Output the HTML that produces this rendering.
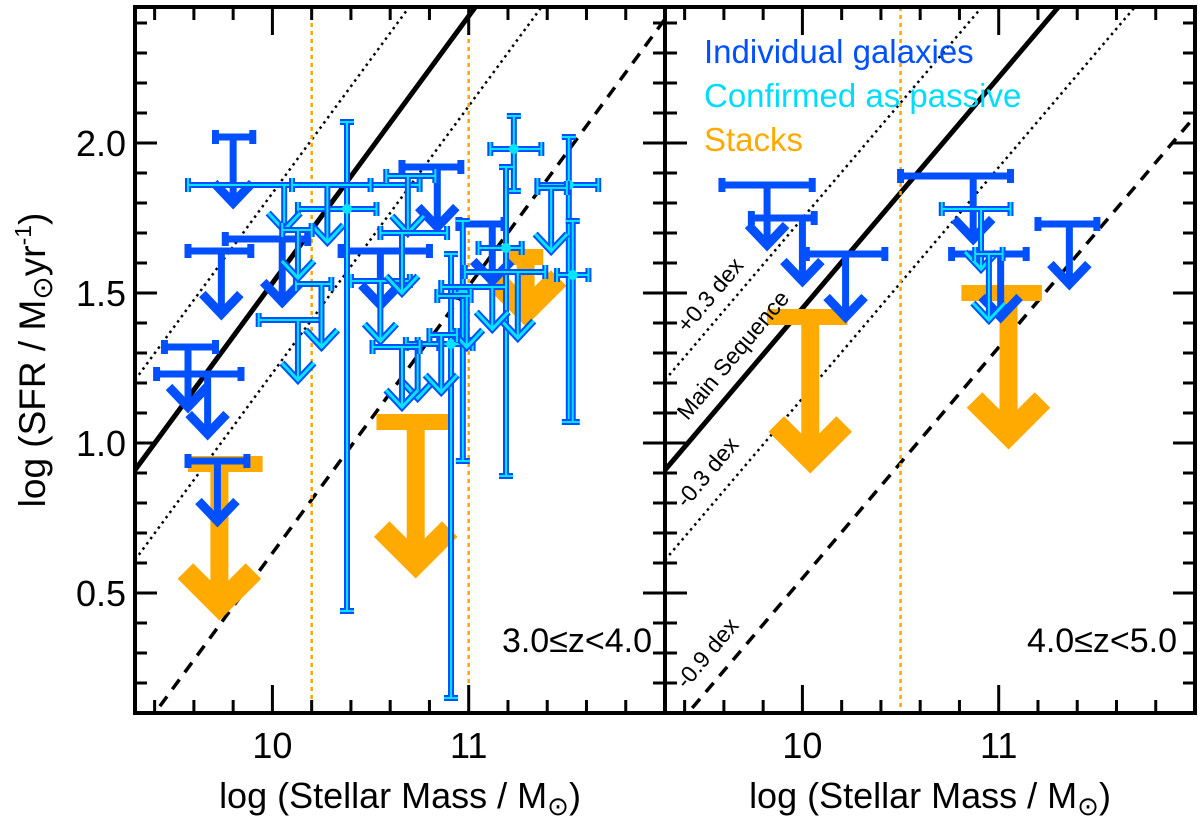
<!DOCTYPE html>
<html><head><meta charset="utf-8"><style>
html,body{margin:0;padding:0;background:#fff;}
svg{display:block;font-family:"Liberation Sans",Arial,sans-serif;}
</style></head><body>
<svg id="chart" width="1200" height="820" viewBox="0 0 1200 820" xmlns="http://www.w3.org/2000/svg">
<defs>
<clipPath id="clipL"><rect x="135" y="7" width="530" height="706"/></clipPath>
<clipPath id="clipR"><rect x="665" y="7" width="530" height="706"/></clipPath>
</defs>
<g id="panelL" clip-path="url(#clipL)"></g>
<g id="panelR" clip-path="url(#clipR)"></g>
<g id="axes"></g>
<text transform="translate(45,360) rotate(-90)" text-anchor="middle" font-size="37">log (SFR / M<tspan font-size="28" dy="7">⊙</tspan><tspan dy="-7">yr</tspan><tspan font-size="23" dy="-14">-1</tspan><tspan dy="14">)</tspan></text>
<text x="400" y="808" text-anchor="middle" font-size="36">log (Stellar Mass / M<tspan font-size="26" dy="7">⊙</tspan><tspan dy="-7">)</tspan></text>
<text x="930" y="808" text-anchor="middle" font-size="36">log (Stellar Mass / M<tspan font-size="26" dy="7">⊙</tspan><tspan dy="-7">)</tspan></text>
<text x="652" y="652" text-anchor="end" font-size="34">3.0≤z&lt;4.0</text>
<text x="1177" y="652" text-anchor="end" font-size="34">4.0≤z&lt;5.0</text>
<text x="704" y="63" font-size="33" fill="#0050ff">Individual galaxies</text>
<text x="704" y="107" font-size="33" fill="#00dcff">Confirmed as passive</text>
<text x="704" y="151" font-size="33" fill="#ffaa00">Stacks</text>
<text transform="translate(716,300) rotate(-50)" text-anchor="middle" font-size="23">+0.3 dex</text>
<text transform="translate(739,360) rotate(-50)" text-anchor="middle" font-size="23">Main Sequence</text>
<text transform="translate(713,477) rotate(-50)" text-anchor="middle" font-size="23">-0.3 dex</text>
<text transform="translate(713,658) rotate(-50)" text-anchor="middle" font-size="23">-0.9 dex</text>
</svg>
<script>
// ---- data ----
const xTickValues = [10, 11];
const xTickLabels = ["10", "11"];
const yTickValues = [0.5, 1.0, 1.5, 2.0];
const yTickLabels = ["0.5", "1.0", "1.5", "2.0"];
const msIntercept = [0.91, 0.91];   // main sequence SFR at log M = 9.3
const msSlope = [0.89, 0.77];
const msOffsets = [0, 0.3, -0.3, -0.9];
const massCut = [10.2, 10.5];
const massCut2 = [11.0, null];

// left panel: blue upper limits
const lBlueM = [9.80, 9.74, 10.05, 9.57, 9.67, 9.72, 10.84, 11.12, 10.55];
const lBlueV = [2.02, 1.64, 1.68, 1.32, 1.23, 0.94, 1.92, 1.73, 1.64];
const lBlueTip = [1.80, 1.43, 1.47, 1.12, 1.03, 0.74, 1.72, 1.54, 1.46];
const lBlueLo = [9.71, 9.57, 9.76, 9.45, 9.41, 9.57, 10.66, 10.95, 10.35];
const lBlueHi = [9.90, 9.89, 10.18, 9.71, 9.84, 9.87, 10.96, 11.18, 10.80];
// left panel: passive (cyan) upper limits
const lCyanM = [10.06, 10.28, 10.13, 10.25, 11.25, 11.42, 11.12, 10.99, 10.74, 10.86, 10.69, 10.55, 10.66, 10.66, 10.13];
const lCyanV = [1.86, 1.86, 1.41, 1.53, 1.57, 1.85, 1.52, 1.49, 1.33, 1.36, 1.89, 1.54, 1.32, 1.70, 1.71];
const lCyanTip = [1.71, 1.67, 1.21, 1.32, 1.35, 1.64, 1.38, 1.32, 1.15, 1.17, 1.70, 1.34, 1.12, 1.50, 1.55];
const lCyanLo = [9.57, 10.10, 9.93, 10.12, 10.98, 11.35, 10.86, 10.84, 10.68, 10.80, 10.58, 10.40, 10.51, 10.55, 10.05];
const lCyanHi = [10.75, 10.50, 10.25, 10.30, 11.39, 11.50, 11.19, 11.01, 10.85, 10.94, 10.83, 10.70, 10.75, 10.89, 10.20];
// left panel: passive detections
const lDetM = [11.23, 11.51, 11.53, 11.19, 10.91, 10.38, 10.97];
const lDetV = [1.98, 1.86, 1.56, 1.65, 1.33, 1.78, 1.50];
const lDetXlo = [11.11, 11.35, 11.45, 11.05, 10.74, 10.13, 10.93];
const lDetXhi = [11.37, 11.66, 11.61, 11.27, 11.02, 10.53, 11.00];
const lDetYlo = [1.84, 1.07, 1.07, 0.89, 0.15, 0.44, 0.94];
const lDetYhi = [2.09, 2.02, 1.74, 1.92, 1.63, 2.07, 1.74];
// left panel: stacks
const lStackM = [9.73, 10.73, 11.29];
const lStackV = [0.93, 1.07, 1.62];
const lStackTip = [0.42, 0.56, 1.40];
const lStackLo = [9.57, 10.53, 11.20];
const lStackHi = [9.95, 10.91, 11.38];

// right panel
const rBlueM = [9.82, 10.00, 10.22, 10.87, 11.01, 11.36];
const rBlueV = [1.86, 1.75, 1.63, 1.89, 1.63, 1.73];
const rBlueTip = [1.66, 1.54, 1.42, 1.68, 1.42, 1.53];
const rBlueLo = [9.59, 9.74, 10.02, 10.50, 10.76, 11.20];
const rBlueHi = [10.05, 10.06, 10.42, 11.06, 11.14, 11.50];
const rCyanM = [10.91, 10.95];
const rCyanV = [1.78, 1.63];
const rCyanTip = [1.58, 1.41];
const rCyanLo = [10.71, 10.88];
const rCyanHi = [11.06, 11.02];
const rStackM = [10.04, 11.05];
const rStackV = [1.42, 1.50];
const rStackTip = [0.91, 0.99];
const rStackLo = [9.82, 10.81];
const rStackHi = [10.23, 11.22];

// ---- scales ----
const NS = "http://www.w3.org/2000/svg";
const PX0 = [135, 665], PW = 530, XMIN = 9.3, XMAX = 12.0;
const YT = 7, YB = 713;
function X(p, m) { return PX0[p] + (m - XMIN) * PW / (XMAX - XMIN); }
function Y(v) { return 143 + (2 - v) * 300; }
const BLUE = "#0050ff", CYAN = "#00e5ff", ORANGE = "#ffaa00";

function el(tag, attrs, parent) {
  const e = document.createElementNS(NS, tag);
  for (const k in attrs) e.setAttribute(k, attrs[k]);
  parent.appendChild(e);
  return e;
}
function line(g, x1, y1, x2, y2, col, w) {
  return el("line", {x1, y1, x2, y2, stroke: col, "stroke-width": w}, g);
}

const panels = [document.getElementById("panelL"), document.getElementById("panelR")];
const axes = document.getElementById("axes");

// ---- reference lines ----
for (let p = 0; p < 2; p++) {
  const g = panels[p];
  msOffsets.forEach((off, i) => {
    const v1 = msIntercept[p] + off, v2 = msIntercept[p] + msSlope[p] * (XMAX - XMIN) + off;
    const ln = line(g, X(p, XMIN), Y(v1), X(p, XMAX), Y(v2), "#000", off === 0 ? 5 : (off === -0.9 ? 3.5 : 2.5));
    
    
    if (off === -0.9) ln.setAttribute("stroke-dasharray", "12 9");
    else if (off !== 0) ln.setAttribute("stroke-dasharray", "2.5 4");
  });
  [massCut[p], massCut2[p]].forEach(mc => {
    if (mc === null) return;
    const c = line(g, X(p, mc), YT, X(p, mc), YB, "#ffa500", 2.5);
    c.setAttribute("stroke-dasharray", "4 4");
    
    
  });
}

// ---- markers ----
function chevron(g, x, y, s, h, col, w) {
  return el("polyline", {points: `${x - s},${y - h} ${x},${y} ${x + s},${y - h}`, fill: "none", stroke: col, "stroke-width": w, "stroke-linejoin": "miter"}, g);
}
function limitMarker(g, p, m, v, tip, lo, hi, passive) {
  const x = X(p, m), y = Y(v), yt = Y(tip), xl = X(p, lo), xh = X(p, hi);
  const layers = passive ? [[BLUE, 6, 7], [CYAN, 2, 3]] : [[BLUE, 7, 9]];
  layers.forEach(([col, w, cw]) => {
    line(g, xl, y, xh, y, col, w);
    line(g, xl, y - 7, xl, y + 7, col, w);
    line(g, xh, y - 7, xh, y + 7, col, w);
    line(g, x, y, x, yt - 2, col, w);
    chevron(g, x, yt, passive ? 16 : 19, passive ? 17 : 20, col, cw);
  });
}
function detMarker(g, p, m, v, xlo, xhi, ylo, yhi) {
  const x = X(p, m), y = Y(v);
  [[BLUE, 6], [CYAN, 2]].forEach(([col, w]) => {
    line(g, X(p, xlo), y, X(p, xhi), y, col, w);
    line(g, X(p, xlo), y - 7, X(p, xlo), y + 7, col, w);
    line(g, X(p, xhi), y - 7, X(p, xhi), y + 7, col, w);
    line(g, x, Y(ylo), x, Y(yhi), col, w);
    line(g, x - 7, Y(ylo), x + 7, Y(ylo), col, w);
    line(g, x - 7, Y(yhi), x + 7, Y(yhi), col, w);
  });
  el("circle", {cx: x, cy: y, r: 5, fill: CYAN}, g);
}
function stackMarker(g, p, m, v, tip, lo, hi) {
  const x = X(p, m), y = Y(v), yt = Y(tip);
  line(g, X(p, lo), y, X(p, hi), y, ORANGE, 16);
  line(g, x, y, x, yt - 10, ORANGE, 18);
  const s = Math.min(34, (yt - y) * 0.5);
  chevron(g, x, yt - 12, s, s, ORANGE, 22);
}

const sets = [
  {stack: [lStackM, lStackV, lStackTip, lStackLo, lStackHi], blue: [lBlueM, lBlueV, lBlueTip, lBlueLo, lBlueHi],
   cyan: [lCyanM, lCyanV, lCyanTip, lCyanLo, lCyanHi], det: [lDetM, lDetV, lDetXlo, lDetXhi, lDetYlo, lDetYhi]},
  {stack: [rStackM, rStackV, rStackTip, rStackLo, rStackHi], blue: [rBlueM, rBlueV, rBlueTip, rBlueLo, rBlueHi],
   cyan: [rCyanM, rCyanV, rCyanTip, rCyanLo, rCyanHi], det: [[], [], [], [], [], []]}
];
for (let p = 0; p < 2; p++) {
  const S = sets[p];
  S.stack[0].forEach((m, i) => {
    const g = el("g", {}, panels[p]);
    
    
    stackMarker(g, p, m, S.stack[1][i], S.stack[2][i], S.stack[3][i], S.stack[4][i]);
  });
  S.blue[0].forEach((m, i) => {
    const g = el("g", {}, panels[p]);
    
    
    limitMarker(g, p, m, S.blue[1][i], S.blue[2][i], S.blue[3][i], S.blue[4][i], false);
  });
  S.det[0].forEach((m, i) => {
    const g = el("g", {}, panels[p]);
    
    
    detMarker(g, p, m, S.det[1][i], S.det[2][i], S.det[3][i], S.det[4][i], S.det[5][i]);
  });
  S.cyan[0].forEach((m, i) => {
    const g = el("g", {}, panels[p]);
    
    
    limitMarker(g, p, m, S.cyan[1][i], S.cyan[2][i], S.cyan[3][i], S.cyan[4][i], true);
  });
}

// ---- axes ----
for (let p = 0; p < 2; p++) {
  const x0 = PX0[p], x1 = PX0[p] + PW;
  for (let k = 0; k <= 13; k++) {
    const m = XMIN + 0.1 + k * 0.2;
    if (m > XMAX - 0.01) break;
    const major = xTickValues.some(t => Math.abs(t - m) < 1e-6);
    const len = major ? 28 : 13;
    const xx = X(p, m);
    const t1 = line(axes, xx, YB, xx, YB - len, "#000", 3);
    
    
    const t2 = line(axes, xx, YT, xx, YT + len, "#000", 3);
    
    
  }
  xTickValues.forEach((t, i) => {
    const tx = el("text", {x: X(p, t), y: 758, "text-anchor": "middle", "font-size": 36}, axes);
    
    
    tx.textContent = xTickLabels[i];
  });
  for (let k = 2; k <= 24; k++) {
    const v = k / 10;
    const major = yTickValues.some(t => Math.abs(t - v) < 1e-6);
    const len = major ? 22 : 12;
    const yy = Y(v);
    const a = line(axes, x0, yy, x0 + len, yy, "#000", 3);
    
    
    const b = line(axes, x1, yy, x1 - len, yy, "#000", 3);
    
    
  }
  const fr = el("rect", {x: x0, y: YT, width: PW, height: YB - YT, fill: "none", stroke: "#000", "stroke-width": 4}, axes);
  
  
}
yTickValues.forEach((t, i) => {
  const tx = el("text", {x: 126, y: Y(t) + 13, "text-anchor": "end", "font-size": 36}, axes);
  
  
  tx.textContent = yTickLabels[i];
});
</script>
</body></html>
